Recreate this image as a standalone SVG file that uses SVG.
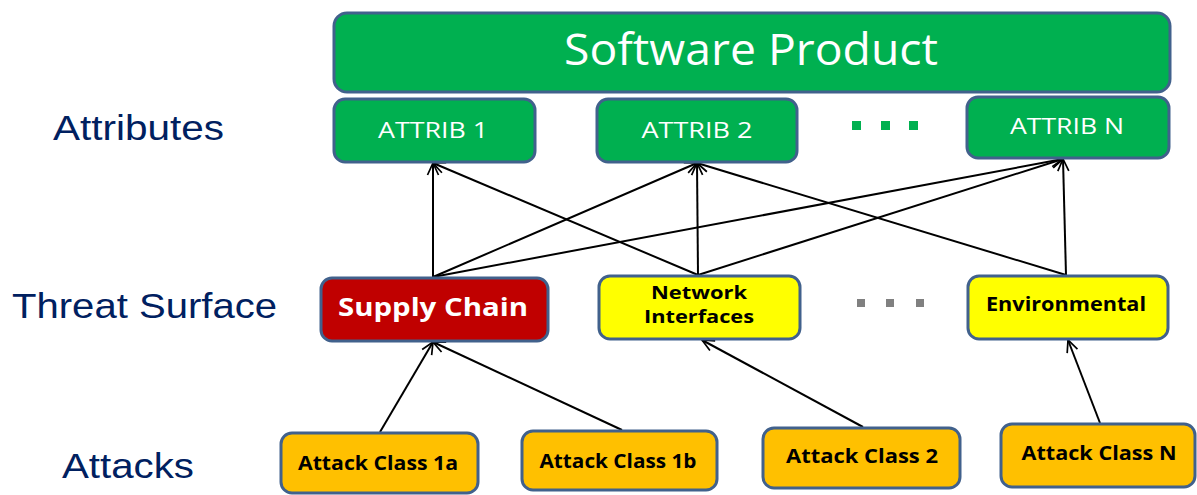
<svg xmlns="http://www.w3.org/2000/svg" width="1197" height="495" viewBox="0 0 1197 495">
  <defs>
    <marker id="arrow" viewBox="0 0 14 14" refX="13" refY="7" markerWidth="14" markerHeight="14" markerUnits="userSpaceOnUse" orient="auto">
      <path d="M1,1.5 L13,7 L1,12.5" fill="none" stroke="#000" stroke-width="1.7"/>
    </marker>
    <style>
      .box { stroke: #41618C; stroke-width: 3; }
      .green { fill: #00B050; }
      .red { fill: #C00000; }
      .yellow { fill: #FFFF00; }
      .orange { fill: #FFC000; }
      .lbl { font-family: "Open Sans", "Liberation Sans", sans-serif; text-anchor: middle; }
      .bold { font-weight: bold; }
      .side { font-family: "Liberation Sans", Arial, sans-serif; fill: #002060; font-size: 35px; }
      .conn line { stroke: #000; stroke-width: 2; marker-end: url(#arrow); }
    </style>
  </defs>
  <rect width="1197" height="495" fill="#FFFFFF"/>

  <!-- row labels -->
  <text class="side" x="53" y="140" textLength="171" lengthAdjust="spacingAndGlyphs">Attributes</text>
  <text class="side" x="12" y="318" textLength="265" lengthAdjust="spacingAndGlyphs">Threat Surface</text>
  <text class="side" x="62" y="478" textLength="132" lengthAdjust="spacingAndGlyphs">Attacks</text>

  <!-- connectors -->
  <g id="connectors" class="conn">
    <line x1="433" y1="277" x2="433" y2="163"/>
    <line x1="433" y1="277" x2="697" y2="163"/>
    <line x1="433" y1="277" x2="1063" y2="159"/>
    <line x1="698" y1="275" x2="433" y2="163"/>
    <line x1="698" y1="275" x2="697" y2="163"/>
    <line x1="698" y1="275" x2="1063" y2="159"/>
    <line x1="1066" y1="275" x2="697" y2="163"/>
    <line x1="1066" y1="275" x2="1063" y2="159"/>
    <line x1="380" y1="432" x2="433" y2="342"/>
    <line x1="622" y1="430" x2="433" y2="342"/>
    <line x1="863" y1="427" x2="702" y2="340"/>
    <line x1="1100" y1="423" x2="1068" y2="340"/>
  </g>

  <g id="software-product">
    <rect class="box green" x="334" y="13" width="836" height="79" rx="13"/>
    <text class="lbl" x="751" y="65" font-size="43" fill="#FFFFFF" textLength="374" lengthAdjust="spacingAndGlyphs">Software Product</text>
  </g>

  <g id="attrib-1">
    <rect class="box green" x="334" y="99" width="201" height="63" rx="11"/>
    <text class="lbl" x="433" y="138" font-size="22" fill="#FFFFFF" textLength="110" lengthAdjust="spacingAndGlyphs">ATTRIB 1</text>
  </g>
  <g id="attrib-2">
    <rect class="box green" x="597" y="99" width="200" height="63" rx="11"/>
    <text class="lbl" x="697" y="138" font-size="22" fill="#FFFFFF" textLength="111" lengthAdjust="spacingAndGlyphs">ATTRIB 2</text>
  </g>
  <g id="attrib-ellipsis" fill="#00B050">
    <rect x="852" y="121" width="9" height="9"/>
    <rect x="881" y="121" width="9" height="9"/>
    <rect x="909" y="121" width="9" height="9"/>
  </g>
  <g id="attrib-n">
    <rect class="box green" x="967" y="97" width="202" height="61" rx="11"/>
    <text class="lbl" x="1067" y="134" font-size="22" fill="#FFFFFF" textLength="114" lengthAdjust="spacingAndGlyphs">ATTRIB N</text>
  </g>

  <g id="supply-chain">
    <rect class="box red" x="321" y="278" width="227" height="63" rx="11"/>
    <text class="lbl bold" x="433" y="316" font-size="25" fill="#FFFFFF" textLength="190" lengthAdjust="spacingAndGlyphs">Supply Chain</text>
  </g>
  <g id="network-interfaces">
    <rect class="box yellow" x="599" y="276" width="201" height="63" rx="11"/>
    <text class="lbl bold" x="699" y="299" font-size="18" fill="#000000" textLength="96" lengthAdjust="spacingAndGlyphs">Network</text>
    <text class="lbl bold" x="699" y="323" font-size="18" fill="#000000" textLength="110" lengthAdjust="spacingAndGlyphs">Interfaces</text>
  </g>
  <g id="surface-ellipsis" fill="#808080">
    <rect x="857" y="299" width="8" height="8"/>
    <rect x="886" y="299" width="8" height="8"/>
    <rect x="916" y="299" width="8" height="8"/>
  </g>
  <g id="environmental">
    <rect class="box yellow" x="968" y="276" width="200" height="63" rx="11"/>
    <text class="lbl bold" x="1066" y="311" font-size="20" fill="#000000" textLength="160" lengthAdjust="spacingAndGlyphs">Environmental</text>
  </g>

  <g id="attack-1a">
    <rect class="box orange" x="281" y="433" width="197" height="60" rx="11"/>
    <text class="lbl bold" x="378" y="470" font-size="20" fill="#000000" textLength="160" lengthAdjust="spacingAndGlyphs">Attack Class 1a</text>
  </g>
  <g id="attack-1b">
    <rect class="box orange" x="522" y="431" width="195" height="59" rx="11"/>
    <text class="lbl bold" x="618" y="468" font-size="20" fill="#000000" textLength="157" lengthAdjust="spacingAndGlyphs">Attack Class 1b</text>
  </g>
  <g id="attack-2">
    <rect class="box orange" x="763" y="428" width="197" height="60" rx="11"/>
    <text class="lbl bold" x="862" y="463" font-size="20" fill="#000000" textLength="152" lengthAdjust="spacingAndGlyphs">Attack Class 2</text>
  </g>
  <g id="attack-n">
    <rect class="box orange" x="1001" y="424" width="194" height="63" rx="11"/>
    <text class="lbl bold" x="1099" y="460" font-size="20" fill="#000000" textLength="155" lengthAdjust="spacingAndGlyphs">Attack Class N</text>
  </g>
</svg>
